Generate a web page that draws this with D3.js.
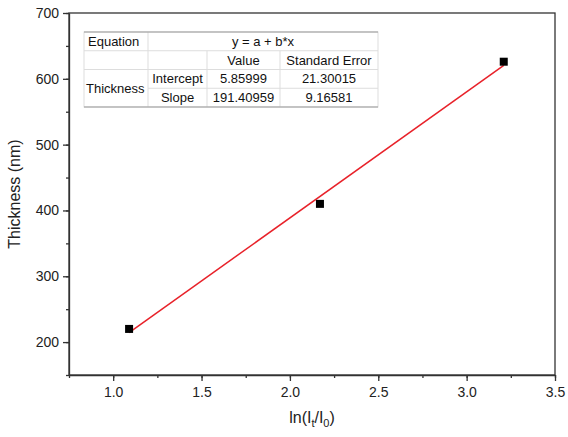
<!DOCTYPE html>
<head>
  <meta charset="utf-8">
  <script src="https://d3js.org/d3.v7.min.js"></script>
  <style>
    body { margin: 0; background: #fff; }
    text { font-family: "Liberation Sans", Arial, sans-serif; fill: #222; }
    .axis path, .axis line { stroke: #333; stroke-width: 1.3; }
    .tick text { font-size: 14px; }
    .frame { fill: none; stroke: #333; stroke-width: 1.3; }
    .tbl text { font-size: 13px; fill: #111; }
  </style>
</head>
<body>
<div id="chart"></div>
<script>
// data
var xs = [1.09, 2.17, 3.21];
var ys = [220, 410, 626];
// fit parameters shown in the table
var intercept = 5.85999, slope = 191.40959;
var xTicks = [1.0, 1.5, 2.0, 2.5, 3.0, 3.5];
var yTicks = [200, 300, 400, 500, 600, 700];
var tableRows = [
  ["Equation", "y = a + b*x"],
  ["", "Value", "Standard Error"],
  ["Intercept", "5.85999", "21.30015"],
  ["Slope", "191.40959", "9.16581"]
];

var margin = {top: 13, right: 13, bottom: 62, left: 69},
    width = 568 - margin.left - margin.right,
    height = 437 - margin.top - margin.bottom;

var svg = d3.select("#chart").append("svg")
    .attr("width", 568)
    .attr("height", 437)
  .append("g")
    .attr("transform", "translate(" + margin.left + "," + margin.top + ")");

var x = d3.scaleLinear().domain([0.75, 3.5]).range([0, width]);
var y = d3.scaleLinear().domain([150, 700]).range([height, 0]);

// minor ticks
svg.append("g").attr("class", "axis")
    .attr("transform", "translate(0," + height + ")")
    .call(d3.axisBottom(x).tickValues(d3.range(0.75, 3.51, 0.25)).tickSize(3).tickFormat(""))
    .select(".domain").remove();
svg.append("g").attr("class", "axis")
    .call(d3.axisLeft(y).tickValues(d3.range(150, 701, 50)).tickSize(3).tickFormat(""))
    .select(".domain").remove();

// major ticks
svg.append("g").attr("class", "axis")
    .attr("transform", "translate(0," + height + ")")
    .call(d3.axisBottom(x).tickValues(xTicks).tickSize(6).tickSizeOuter(0).tickPadding(6).tickFormat(d3.format(".1f")));
svg.append("g").attr("class", "axis")
    .call(d3.axisLeft(y).tickValues(yTicks).tickSize(6).tickSizeOuter(0).tickPadding(4));

svg.append("rect").attr("class", "frame")
    .attr("width", width).attr("height", height);

// axis titles
svg.append("text")
    .attr("transform", "translate(-49," + (height / 2) + ") rotate(-90)")
    .attr("text-anchor", "middle")
    .style("font-size", "16px")
    .text("Thickness (nm)");

var xt = svg.append("text")
    .attr("x", width / 2)
    .attr("y", height + 48)
    .attr("text-anchor", "middle")
    .style("font-size", "16px");
xt.append("tspan").text("ln(I");
xt.append("tspan").attr("dy", 4).style("font-size", "11px").text("t");
xt.append("tspan").attr("dy", -4).text("/I");
xt.append("tspan").attr("dy", 4).style("font-size", "11px").text("0");
xt.append("tspan").attr("dy", -4).text(")");

// fit line
var fitX = [d3.min(xs), d3.max(xs)];
svg.append("line")
    .attr("x1", x(fitX[0])).attr("y1", y(intercept + slope * fitX[0]))
    .attr("x2", x(fitX[1])).attr("y2", y(intercept + slope * fitX[1]))
    .attr("stroke", "#e8222a").attr("stroke-width", 1.5);

// points
svg.selectAll(".pt")
    .data(xs)
  .enter().append("rect")
    .attr("class", "pt")
    .attr("x", function(d) { return x(d) - 4; })
    .attr("y", function(d, i) { return y(ys[i]) - 4; })
    .attr("width", 8).attr("height", 8)
    .attr("fill", "#000");

// parameter table
var tbl = svg.append("g").attr("class", "tbl").attr("transform", "translate(15,19)");
var colX = [0, 64, 123, 196, 294];
var rowH = 18.75;
tbl.append("rect").attr("width", colX[4]).attr("height", rowH * 4)
    .attr("fill", "#fff").attr("stroke", "#ddd");
// inner lines
[1, 2, 3].forEach(function(r) {
  tbl.append("line")
    .attr("x1", r === 3 ? colX[1] : 0).attr("x2", colX[4])
    .attr("y1", r * rowH).attr("y2", r * rowH)
    .attr("stroke", "#ddd");
});
tbl.append("line").attr("x1", colX[1]).attr("x2", colX[1]).attr("y1", 0).attr("y2", rowH * 4).attr("stroke", "#ddd");
tbl.append("line").attr("x1", colX[2]).attr("x2", colX[2]).attr("y1", rowH).attr("y2", rowH * 4).attr("stroke", "#ddd");
tbl.append("line").attr("x1", colX[3]).attr("x2", colX[3]).attr("y1", rowH).attr("y2", rowH * 4).attr("stroke", "#ddd");
tbl.append("line").attr("x1", 0).attr("x2", colX[4]).attr("y1", 0).attr("y2", 0).attr("stroke", "#999");
tbl.append("line").attr("x1", 0).attr("x2", colX[4]).attr("y1", rowH * 4).attr("y2", rowH * 4).attr("stroke", "#999");

function cell(txt, x0, x1, r, anchor) {
  tbl.append("text")
    .attr("x", anchor === "start" ? x0 + 4 : (x0 + x1) / 2)
    .attr("y", r * rowH + rowH / 2 + 4.5)
    .attr("text-anchor", anchor || "middle")
    .text(txt);
}
cell(tableRows[0][0], colX[0], colX[1], 0, "start");
cell(tableRows[0][1], colX[1], colX[4], 0);
cell(tableRows[1][1], colX[2], colX[3], 1);
cell(tableRows[1][2], colX[3], colX[4], 1);
tbl.append("text").attr("x", 2).attr("y", 2 * rowH + rowH + 4.5).text("Thickness");
[2, 3].forEach(function(r) {
  cell(tableRows[r][0], colX[1], colX[2], r);
  cell(tableRows[r][1], colX[2], colX[3], r);
  cell(tableRows[r][2], colX[3], colX[4], r);
});
</script>
</body>
